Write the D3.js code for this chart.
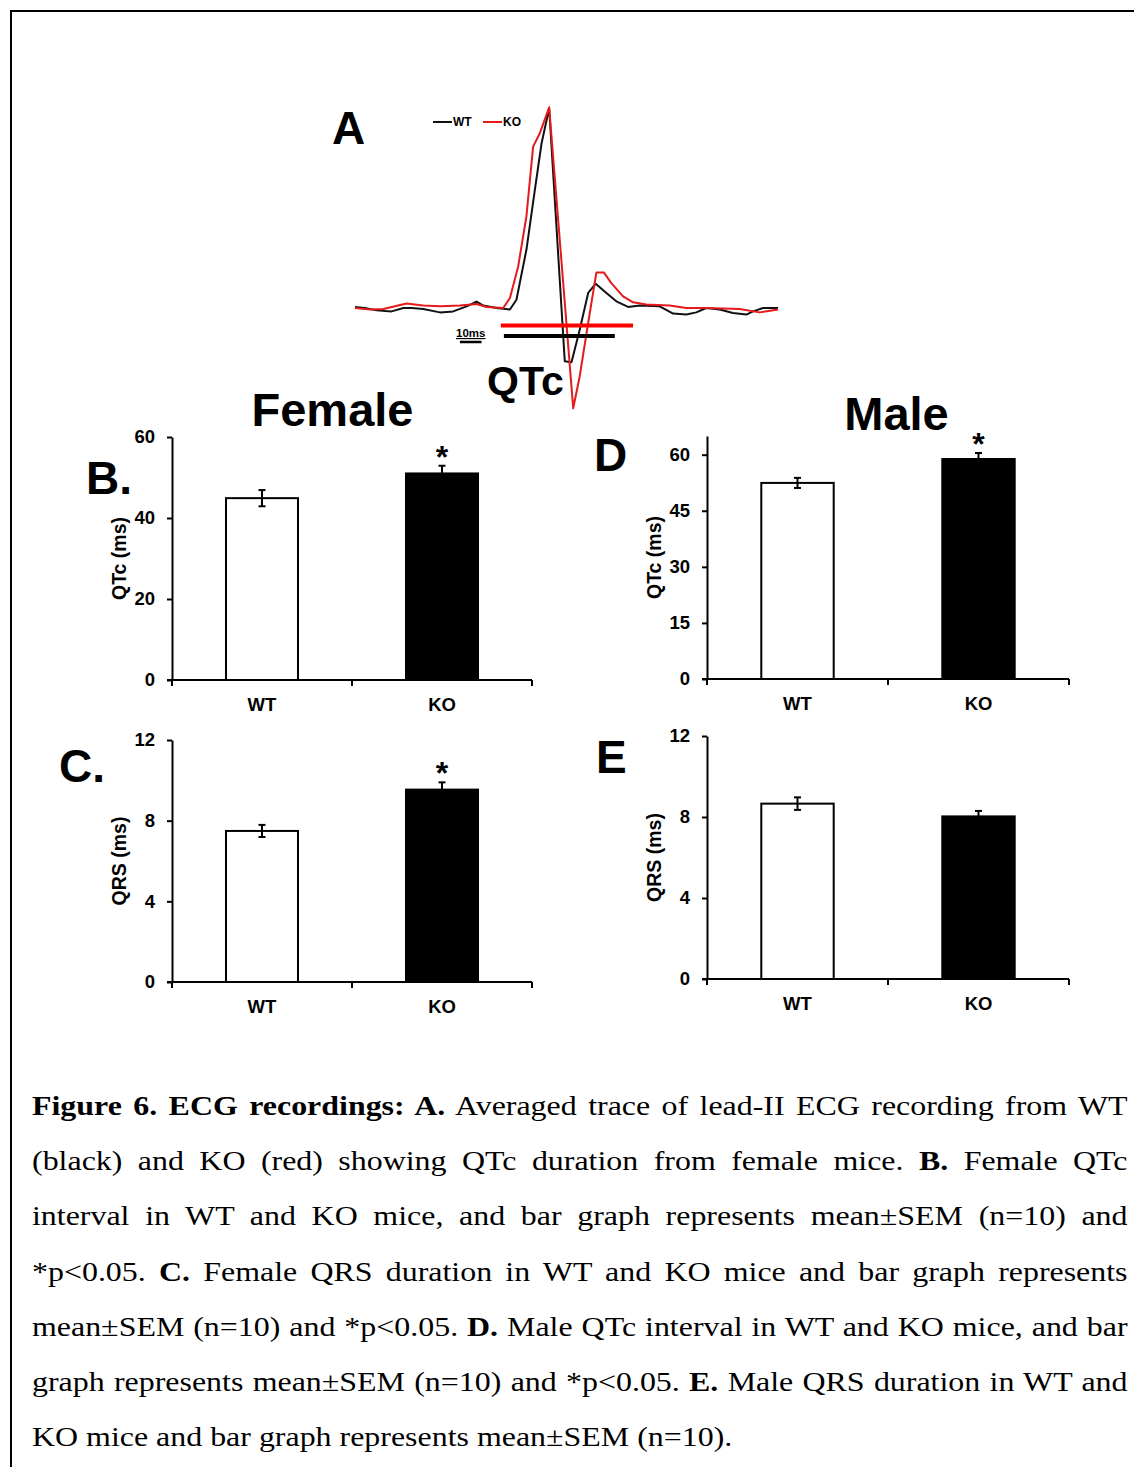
<!DOCTYPE html>
<html>
<head>
<meta charset="utf-8">
<script src="https://cdn.jsdelivr.net/npm/d3@7"></script>
<style>
  body { margin: 0; background: #fff; }
  #fig { position: absolute; left: 0; top: 0; }
  #caption {
    position: absolute; left: 32px; top: 1078px; width: 961px;
    transform: scaleX(1.14); transform-origin: 0 0;
    font-family: "Liberation Serif", "Times New Roman", serif;
    font-size: 28px; line-height: 55.2px; color: #000;
  }
  #caption .ln { text-align: justify; text-align-last: justify; white-space: nowrap; }
  #caption .ln.last { text-align-last: left; }
</style>
</head>
<body>
<svg id="fig" width="1134" height="1467"></svg>
<div id="caption"></div>
<script>
// ---- data ----
var groups = ["WT", "KO"];

var femaleQTcMean = [44.9, 51.0],
    femaleQTcSem = [2.0, 1.9],
    femaleQRSMean = [7.49, 9.54],
    femaleQRSSem = [0.30, 0.36],
    maleQTcMean = [52.45, 58.85],
    maleQTcSem = [1.35, 1.6],
    maleQRSMean = [8.66, 8.03],
    maleQRSSem = [0.31, 0.27];

var femaleQTcSig = [false, true],
    femaleQRSSig = [false, true],
    maleQTcSig = [false, true],
    maleQRSSig = [false, false];

var qtcTicks = [0, 20, 40, 60],
    qrsTicks = [0, 4, 8, 12],
    maleQtcTicks = [0, 15, 30, 45, 60];

// averaged ECG traces (time in ms, amplitude normalised to R peak)
var ecgTimeWT = [0, 4.6, 10.0, 16.9, 22.3, 26.1, 31.5, 39.2, 45.3, 51.5, 56.1, 59.2, 65.3, 71.5, 74.5, 79.1, 83.0, 86.1, 89.6,
    96.8, 99.9, 103.7, 107.6, 111.1, 116.0, 120.6, 126.0, 131.4, 140.6, 146.8, 152.9, 157.5, 162.1, 168.3, 174.4, 180.6, 183.7, 188.3, 195.2];
var ecgVoltWT = [0.005, 0, -0.012, -0.017, 0, 0, -0.005, -0.022, -0.017, 0.008, 0.032, 0.012, 0, -0.008, 0.041, 0.29, 0.589, 0.821, 0.995,
    -0.265, -0.27, -0.108, 0.075, 0.121, 0.075, 0.033, 0.005, 0.012, 0.008, -0.028, -0.033, -0.022, 0, -0.008, -0.025, -0.033, -0.017, 0, 0];
var ecgTimeKO = [0, 6.9, 13.1, 23.8, 31.5, 39.2, 48.4, 56.1, 60.7, 68.4, 71.5, 75.3, 79.1, 82.2, 85.3, 89.6,
    100.7, 103.7, 107.6, 111.4, 114.8, 118.3, 123.7, 128.3, 134.5, 145.2, 152.9, 162.1, 177.5, 186.7, 195.2];
var ecgVoltKO = [0, -0.008, -0.005, 0.022, 0.012, 0.008, 0.012, 0.02, 0.005, 0, 0.05, 0.207, 0.456, 0.804, 0.871, 1.0,
    -0.5, -0.34, -0.075, 0.177, 0.177, 0.124, 0.058, 0.028, 0.017, 0.012, 0, 0, -0.005, -0.022, -0.008];

var qtcWT = [68.7, 119.9],
    qtcKO = [67.3, 128.3],
    scaleBarStart = 48.4,
    scaleBarLen = 10;

var captionLines = [
    [["Figure 6. ECG recordings: A.", true], [" Averaged trace of lead-II ECG recording from WT", false]],
    [["(black) and KO (red) showing QTc duration from female mice. ", false], ["B.", true], [" Female QTc", false]],
    [["interval in WT and KO mice, and bar graph represents mean\u00b1SEM (n=10) and", false]],
    [["*p<0.05. ", false], ["C.", true], [" Female QRS duration in WT and KO mice and bar graph represents", false]],
    [["mean\u00b1SEM (n=10) and *p<0.05. ", false], ["D.", true], [" Male QTc interval in WT and KO mice, and bar", false]],
    [["graph represents mean\u00b1SEM (n=10) and *p<0.05. ", false], ["E.", true], [" Male QRS duration in WT and", false]],
    [["KO mice and bar graph represents mean\u00b1SEM (n=10).", false]]
];

// ---- drawing ----
var sans = "Arial, 'Liberation Sans', sans-serif";
var svg = d3.select("#fig");

// frame (only top and left edges fall inside the picture)
svg.append("path")
    .attr("d", "M11,1467 V11 H1134")
    .attr("fill", "none")
    .attr("stroke", "#000")
    .attr("stroke-width", 2);

function label(txt, x, y, size, anchor) {
    return svg.append("text")
        .attr("x", x).attr("y", y)
        .attr("text-anchor", anchor || "start")
        .style("font-family", sans)
        .style("font-weight", "bold")
        .style("font-size", size + "px")
        .text(txt);
}

// panel A: ECG
var ecgX = d3.scaleLinear().domain([0, 195.2]).range([355, 778]);
var ecgY = d3.scaleLinear().domain([-0.5, 1.0]).range([408.3, 107.3]);

label("A", 332, 144, 46);
label("QTc", 487, 395, 41);

var line = d3.line()
    .x(function (d) { return ecgX(d[0]); })
    .y(function (d) { return ecgY(d[1]); });

svg.append("path")
    .datum(d3.zip(ecgTimeWT, ecgVoltWT))
    .attr("d", line)
    .attr("fill", "none")
    .attr("stroke", "#111")
    .attr("stroke-width", 2)
    .attr("stroke-linejoin", "round");

svg.append("path")
    .datum(d3.zip(ecgTimeKO, ecgVoltKO))
    .attr("d", line)
    .attr("fill", "none")
    .attr("stroke", "#e41a1c")
    .attr("stroke-width", 2)
    .attr("stroke-linejoin", "round");

// QTc interval bars
svg.append("line")
    .attr("x1", ecgX(qtcKO[0])).attr("x2", ecgX(qtcKO[1]))
    .attr("y1", 325.5).attr("y2", 325.5)
    .attr("stroke", "#ff0000").attr("stroke-width", 4);
svg.append("line")
    .attr("x1", ecgX(qtcWT[0])).attr("x2", ecgX(qtcWT[1]))
    .attr("y1", 336).attr("y2", 336)
    .attr("stroke", "#000").attr("stroke-width", 4);

// 10 ms scale bar
svg.append("line")
    .attr("x1", ecgX(scaleBarStart)).attr("x2", ecgX(scaleBarStart + scaleBarLen))
    .attr("y1", 342).attr("y2", 342)
    .attr("stroke", "#000").attr("stroke-width", 2.5);
label("10ms", ecgX(scaleBarStart + scaleBarLen / 2), 337, 11.5, "middle")
    .style("text-decoration", "underline");

// legend
var legend = [["WT", "#111", 433], ["KO", "#e41a1c", 483]];
legend.forEach(function (l) {
    svg.append("line")
        .attr("x1", l[2]).attr("x2", l[2] + 19)
        .attr("y1", 122).attr("y2", 122)
        .attr("stroke", l[1]).attr("stroke-width", 2);
    label(l[0], l[2] + 20, 126, 12);
});

// headings
label("Female", 332.5, 426, 47, "middle");
label("Male", 896.5, 430, 47, "middle");

// bar panels
function barPanel(o) {
    var g = svg.append("g");
    var x = d3.scaleBand().domain(groups).range([o.x0, o.x1]);
    var y = d3.scaleLinear().domain(o.domain).range([o.y0, o.yTop]);
    var bw = x.bandwidth() * 0.4;

    label(o.letter, o.lx, o.ly, 46);

    // y axis
    var yAxis = d3.axisLeft(y).tickValues(o.ticks).tickSize(5).tickPadding(12).tickSizeOuter(0);
    var ya = g.append("g")
        .attr("transform", "translate(" + o.x0 + ",0)")
        .call(yAxis);
    ya.select(".domain").attr("stroke-width", 2);
    ya.selectAll(".tick line").attr("stroke-width", 2);
    ya.selectAll("text")
        .style("font-family", sans)
        .style("font-weight", "bold")
        .style("font-size", "18.5px");

    g.append("text")
        .attr("transform", "translate(" + (o.x0 - 46) + "," + (o.y0 + o.yTop) / 2 + ") rotate(-90)")
        .attr("text-anchor", "middle")
        .style("font-family", sans)
        .style("font-weight", "bold")
        .style("font-size", "19.5px")
        .text(o.ylabel);

    // bars
    g.selectAll("rect.bar")
        .data(groups)
        .enter().append("rect")
        .attr("class", "bar")
        .attr("x", function (d) { return x(d) + (x.bandwidth() - bw) / 2; })
        .attr("width", bw)
        .attr("y", function (d, i) { return y(o.mean[i]); })
        .attr("height", function (d, i) { return o.y0 - y(o.mean[i]); })
        .attr("fill", function (d, i) { return i === 0 ? "#fff" : "#000"; })
        .attr("stroke", "#000")
        .attr("stroke-width", 2);

    // error bars
    groups.forEach(function (d, i) {
        var cx = x(d) + x.bandwidth() / 2,
            hi = y(o.mean[i] + o.sem[i]),
            lo = y(o.mean[i] - o.sem[i]);
        g.append("line").attr("x1", cx).attr("x2", cx).attr("y1", hi).attr("y2", lo)
            .attr("stroke", "#000").attr("stroke-width", 2);
        [hi, lo].forEach(function (yy) {
            g.append("line").attr("x1", cx - 3.5).attr("x2", cx + 3.5).attr("y1", yy).attr("y2", yy)
                .attr("stroke", "#000").attr("stroke-width", 2);
        });
        if (o.sig[i]) {
            g.append("text")
                .attr("x", cx).attr("y", hi + 2)
                .attr("text-anchor", "middle")
                .style("font-family", sans)
                .style("font-weight", "bold")
                .style("font-size", "32px")
                .text("*");
        }
    });

    // x axis
    g.append("line")
        .attr("x1", o.x0 - 5).attr("x2", o.x1)
        .attr("y1", o.y0).attr("y2", o.y0)
        .attr("stroke", "#000").attr("stroke-width", 2);
    var edges = groups.map(function (d) { return x(d); }).concat([o.x1]);
    g.selectAll("line.xt")
        .data(edges)
        .enter().append("line")
        .attr("class", "xt")
        .attr("x1", function (d) { return d; }).attr("x2", function (d) { return d; })
        .attr("y1", o.y0).attr("y2", o.y0 + 6)
        .attr("stroke", "#000").attr("stroke-width", 2);
    g.selectAll("text.xl")
        .data(groups)
        .enter().append("text")
        .attr("class", "xl")
        .attr("x", function (d) { return x(d) + x.bandwidth() / 2; })
        .attr("y", o.y0 + 31)
        .attr("text-anchor", "middle")
        .style("font-family", sans)
        .style("font-weight", "bold")
        .style("font-size", "18.5px")
        .text(function (d) { return d; });
}

barPanel({ letter: "B.", lx: 86, ly: 494, x0: 172, x1: 532, y0: 680, yTop: 437, domain: [0, 60], ticks: qtcTicks,
    ylabel: "QTc (ms)", mean: femaleQTcMean, sem: femaleQTcSem, sig: femaleQTcSig });
barPanel({ letter: "C.", lx: 59, ly: 782, x0: 172, x1: 532, y0: 982, yTop: 740, domain: [0, 12], ticks: qrsTicks,
    ylabel: "QRS (ms)", mean: femaleQRSMean, sem: femaleQRSSem, sig: femaleQRSSig });
barPanel({ letter: "D", lx: 594, ly: 471, x0: 707, x1: 1069, y0: 679, yTop: 436, domain: [0, 65], ticks: maleQtcTicks,
    ylabel: "QTc (ms)", mean: maleQTcMean, sem: maleQTcSem, sig: maleQTcSig });
barPanel({ letter: "E", lx: 596, ly: 773, x0: 707, x1: 1069, y0: 979, yTop: 736, domain: [0, 12], ticks: qrsTicks,
    ylabel: "QRS (ms)", mean: maleQRSMean, sem: maleQRSSem, sig: maleQRSSig });

// caption
var cap = d3.select("#caption");
captionLines.forEach(function (segs, i) {
    var ln = cap.append("div").attr("class", "ln" + (i === captionLines.length - 1 ? " last" : ""));
    segs.forEach(function (s) {
        ln.append("span").style("font-weight", s[1] ? "bold" : "normal").text(s[0]);
    });
});
</script>
</body>
</html>
